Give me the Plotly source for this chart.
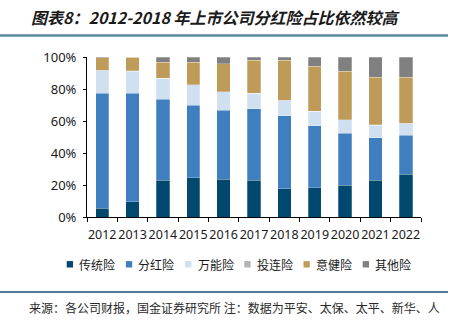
import plotly.graph_objects as go

years = ["2012", "2013", "2014", "2015", "2016", "2017", "2018", "2019", "2020", "2021", "2022"]

traditional = [5.6, 9.4, 23.0, 24.5, 23.6, 23.0, 17.6, 18.4, 19.9, 23.0, 26.8]
participating = [71.8, 68.0, 50.6, 45.4, 43.1, 44.8, 45.6, 38.7, 32.6, 26.6, 24.2]
universal = [14.0, 13.6, 13.0, 12.7, 11.5, 9.6, 9.6, 9.0, 8.2, 7.9, 7.4]
unit_linked = [0.4, 0.4, 0.2, 0.1, 0.1, 0.1, 0.1, 0.1, 0.1, 0.1, 0.1]
accident_health = [7.7, 8.4, 9.9, 14.0, 17.5, 20.4, 25.0, 27.9, 30.2, 29.8, 28.9]
other = [0.5, 0.2, 3.3, 3.3, 4.2, 2.1, 2.1, 5.9, 9.0, 12.6, 12.6]

series_names = ["传统险", "分红险", "万能险", "投连险", "意健险", "其他险"]
series_values = [traditional, participating, universal, unit_linked, accident_health, other]
series_colors = ["#00486e", "#3f7fbf", "#cfe0f1", "#b3b3b3", "#bf9b5a", "#808080"]

y_ticks = [0, 20, 40, 60, 80, 100]
y_tick_labels = ["0%", "20%", "40%", "60%", "80%", "100%"]

W, H = 460, 327
L, R, T, B = 87, 39, 57, 110
PW, PH = W - L - R, H - T - B


def px(x):
    return (x - L) / PW


def py(y):
    return (H - B - y) / PH


fig = go.Figure()
for name, vals, col in zip(series_names, series_values, series_colors):
    fig.add_trace(go.Bar(
        x=years, y=vals, name=name,
        marker=dict(color=col, line=dict(color="rgba(255,255,255,0.5)", width=0.5)),
        showlegend=False,
    ))

cjk = "Noto Sans CJK SC"

annotations = [
    dict(text="<b><i>图表8：2012-2018 年上市公司分红险占比依然较高</i></b>",
         x=px(29), y=py(17), xref="paper", yref="paper", xanchor="left", yanchor="middle",
         showarrow=False, font=dict(family=cjk, size=16, color="#1a1a1a")),
    dict(text="来源：各公司财报，国金证券研究所 注：数据为平安、太保、太平、新华、人",
         x=px(27), y=py(307), xref="paper", yref="paper", xanchor="left", yanchor="middle",
         showarrow=False, font=dict(family=cjk, size=12, color="#2a2a2a")),
]

shapes = [
    dict(type="line", xref="paper", yref="paper", x0=px(0), x1=px(448), y0=py(35.5), y1=py(35.5),
         line=dict(color="#5b8aa0", width=2.6)),
    dict(type="line", xref="paper", yref="paper", x0=px(0), x1=px(448), y0=py(292), y1=py(292),
         line=dict(color="#1f4e79", width=1.4)),
]

# legend row: colored square followed by the series name
leg_x0, leg_step, leg_y = 66.7, 59.2, 264.3
for i, (name, col) in enumerate(zip(series_names, series_colors)):
    sx = leg_x0 + i * leg_step
    shapes.append(dict(type="rect", xref="paper", yref="paper",
                       x0=px(sx), x1=px(sx + 6.3), y0=py(leg_y + 3.2), y1=py(leg_y - 3.2),
                       fillcolor=col, line=dict(width=0)))
    annotations.append(dict(text=name, x=px(sx + 10.5), y=py(leg_y), xref="paper", yref="paper",
                            xanchor="left", yanchor="middle", showarrow=False,
                            font=dict(family=cjk, size=12, color="#1a1a1a")))

fig.update_layout(
    width=W, height=H,
    margin=dict(l=L, r=R, t=T, b=B, pad=0),
    paper_bgcolor="white", plot_bgcolor="white",
    barmode="stack", bargap=0.56,
    font=dict(family="Noto Sans", size=13, color="#1a1a1a"),
    annotations=annotations, shapes=shapes,
    xaxis=dict(type="category", showline=True, linecolor="#000000", linewidth=1,
               ticks="outside", tickson="boundaries", ticklen=4, tickcolor="#000000",
               showgrid=False, tickangle=0, tickfont=dict(size=12.5), ticklabelstandoff=6),
    yaxis=dict(range=[0, 100], tickmode="array", tickvals=y_ticks, ticktext=y_tick_labels,
               showline=True, linecolor="#000000", linewidth=1, ticks="outside", ticklen=3,
               tickcolor="#000000", showgrid=False, zeroline=False, tickfont=dict(size=13),
               ticklabelstandoff=4),
)

fig.write_html("out.html")
